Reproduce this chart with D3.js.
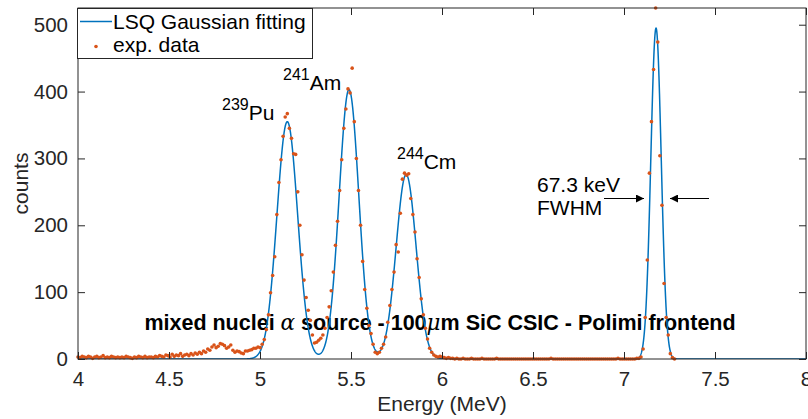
<!DOCTYPE html>
<html>
<head>
<meta charset="utf-8">
<script src="https://cdn.jsdelivr.net/npm/d3@7"></script>
<style>
  body { margin: 0; background: #fff; }
  svg { display: block; font-family: "Liberation Sans", Arial, sans-serif; }
</style>
</head>
<body>
<div id="chart"></div>
<script>
// measured spectrum: counts per channel, first channel at 4.0 MeV
const binStart = 4.0;
const binWidth = 0.0115;
const expCounts = [
  3,2,4,3,2,4,3,1,3,4, 2,3,5,2,3,2,4,3,2,3, 2,3,2,4,3,2,1,3,2,4, 3,2,4,2,3,3,2,4,3,5,
  4,3,6,5,3,7,4,6,5,8, 4,6,7,5,8,6,9,7,10,8,
  12,10,15,13,18,21,17,19,23,22, 20,16,18,21,13,
  10,12,11,9,8,12,
  12,13,14,16,16,18,
  17,22,29,44,66,99,125,153,216,264,298,333,362,367,
  345,330,307,306,250,200,156,118,92,73,58,36,24,25,28,
  31,36,46,62,78,102,130,170,206,252,298,345,374,404,398,435,
  355,300,252,200,146,104,76,50,38,22,10,8,10,16,22,33,55,80,
  104,130,171,160,218,269,278,275,277,240,216,190,150,122,90,66,46,30,16,10,6,4,3,4,
  3,2,1,2,1,1,0,1,0,0, 1,0,0,0,1,0,0,0,0,1, 0,0,0,0,0,0,1,0,0,0, 0,0,0,0,0,0,0,0,0,0,
  0,0,0,0,0,0,0,0,0,0, 0,0,1,0,0,0,0,0,0,0, 0,0,0,0,0,0,0,0,0,0, 0,0,0,0,0,0,0,0,0,0,
  0,0,0,0,1,0,0,0,0,0, 0,0,0,1,
  1,3,15,62,148,278,355,433,525,474,304,230,113,62,36,8,2,0
];

// LSQ gaussian fit, one entry per peak (MeV, counts, MeV)
const peakCentre = [5.150, 5.489, 5.803, 7.176];
const peakHeight = [355, 403, 276, 495];
const peakSigma  = [0.057, 0.054, 0.055, 0.0286];

const xTicks = [4, 4.5, 5, 5.5, 6, 6.5, 7, 7.5, 8];
const yTicks = [0, 100, 200, 300, 400, 500];

const nuclides = [
  {mass: "239", sym: "Pu", x: 222, y: 120},
  {mass: "241", sym: "Am", x: 283, y: 90},
  {mass: "244", sym: "Cm", x: 397, y: 169}
];

const W = 808, H = 419;
const plot = {left: 78, right: 806, top: 8, bottom: 359};
const blue = "#0072BD", orange = "#D95319", axisCol = "#262626";

const svg = d3.select("#chart").append("svg")
  .attr("width", W).attr("height", H);

const x = d3.scaleLinear().domain([4, 8]).range([plot.left, plot.right]);
const y = d3.scaleLinear().domain([0, 525]).range([plot.bottom, plot.top]);

svg.append("defs").append("clipPath").attr("id", "clip")
  .append("rect")
  .attr("x", plot.left).attr("y", plot.top)
  .attr("width", plot.right - plot.left).attr("height", plot.bottom - plot.top);

// title text inside the axes (drawn under the data)
const title = svg.append("text")
  .attr("x", 440).attr("y", 330)
  .attr("text-anchor", "middle")
  .attr("font-size", 21.5).attr("font-weight", "bold").attr("fill", "#000");
title.append("tspan").text("mixed nuclei ");
title.append("tspan").attr("font-family", "DejaVu Serif").attr("font-style", "italic")
  .attr("font-weight", "normal").text("α");
title.append("tspan").text(" source - 100");
title.append("tspan").attr("font-family", "DejaVu Serif").attr("font-style", "italic")
  .attr("font-weight", "normal").text("μ");
title.append("tspan").text("m SiC CSIC - Polimi frontend");

// fit curve
const fitModel = e => d3.sum(peakCentre, (c, k) =>
  peakHeight[k] * Math.exp(-((e - c) ** 2) / (2 * peakSigma[k] ** 2)));
const fitE = d3.range(4, 8.0005, 0.001);

svg.append("path")
  .datum(fitE)
  .attr("clip-path", "url(#clip)")
  .attr("fill", "none")
  .attr("stroke", blue)
  .attr("stroke-width", 1.5)
  .attr("d", d3.line().x(e => x(e)).y(e => y(fitModel(e))));

// experimental points
const expData = expCounts.map((c, i) => ({e: binStart + i * binWidth, c}));
svg.append("g").selectAll("circle")
  .data(expData)
  .join("circle")
  .attr("cx", d => x(d.e))
  .attr("cy", d => y(d.c))
  .attr("r", 1.8)
  .attr("fill", orange);

// axes, ticks pointing inward on all four sides
function styleAxis(g) {
  g.select(".domain").remove();
  g.selectAll(".tick line").attr("stroke", axisCol);
  g.selectAll(".tick text").attr("fill", axisCol)
    .attr("font-size", 20.5).attr("font-family", "Liberation Sans, Arial, sans-serif");
}

svg.append("g").attr("transform", `translate(0,${plot.bottom})`)
  .call(d3.axisBottom(x).tickValues(xTicks).tickFormat(d => String(d))
    .tickSizeInner(-7).tickSizeOuter(0).tickPadding(12))
  .call(styleAxis);
svg.append("g").attr("transform", `translate(0,${plot.top})`)
  .call(d3.axisTop(x).tickValues(xTicks).tickFormat("").tickSizeInner(-7).tickSizeOuter(0))
  .call(styleAxis);
svg.append("g").attr("transform", `translate(${plot.left},0)`)
  .call(d3.axisLeft(y).tickValues(yTicks).tickFormat(d => String(d))
    .tickSizeInner(-7).tickSizeOuter(0).tickPadding(10))
  .call(styleAxis);
svg.append("g").attr("transform", `translate(${plot.right},0)`)
  .call(d3.axisRight(y).tickValues(yTicks).tickFormat("").tickSizeInner(-7).tickSizeOuter(0))
  .call(styleAxis);

svg.append("rect")
  .attr("x", plot.left).attr("y", plot.top)
  .attr("width", plot.right - plot.left).attr("height", plot.bottom - plot.top)
  .attr("fill", "none").attr("stroke", axisCol).attr("stroke-width", 1);

// axis labels
svg.append("text")
  .attr("x", (plot.left + plot.right) / 2).attr("y", 411)
  .attr("text-anchor", "middle").attr("font-size", 21).attr("fill", axisCol)
  .text("Energy (MeV)");
svg.append("text")
  .attr("transform", `translate(28,${(plot.top + plot.bottom) / 2}) rotate(-90)`)
  .attr("text-anchor", "middle").attr("font-size", 21).attr("fill", axisCol)
  .text("counts");

// nuclide labels
nuclides.forEach(n => {
  const t = svg.append("text").attr("x", n.x).attr("y", n.y).attr("fill", "#000");
  t.append("tspan").attr("font-size", 16).attr("dy", -10.5).text(n.mass);
  t.append("tspan").attr("font-size", 21).attr("dy", 10.5).text(n.sym);
});

// FWHM annotation
svg.append("text").attr("x", 537).attr("y", 192).attr("font-size", 21).text("67.3 keV");
svg.append("text").attr("x", 537).attr("y", 215).attr("font-size", 21).text("FWHM");

const marker = svg.select("defs").append("marker")
  .attr("id", "head").attr("viewBox", "0 0 10 10")
  .attr("refX", 10).attr("refY", 5)
  .attr("markerWidth", 8).attr("markerHeight", 8)
  .attr("markerUnits", "userSpaceOnUse")
  .attr("orient", "auto");
marker.append("path").attr("d", "M0,0 L10,5 L0,10 Z").attr("fill", "#000");

[[604, 644], [709, 670]].forEach(([x1, x2]) => {
  svg.append("line")
    .attr("x1", x1).attr("x2", x2).attr("y1", 198.5).attr("y2", 198.5)
    .attr("stroke", "#000").attr("stroke-width", 1.2)
    .attr("marker-end", "url(#head)");
});

// legend
const lg = svg.append("g");
lg.append("rect")
  .attr("x", 77.5).attr("y", 8.5).attr("width", 235).attr("height", 50)
  .attr("fill", "#fff").attr("stroke", axisCol).attr("stroke-width", 1);
lg.append("line")
  .attr("x1", 80).attr("x2", 112).attr("y1", 21.5).attr("y2", 21.5)
  .attr("stroke", blue).attr("stroke-width", 1.5);
lg.append("text").attr("x", 113).attr("y", 29).attr("font-size", 21).attr("fill", "#000")
  .text("LSQ Gaussian fitting");
lg.append("circle").attr("cx", 96).attr("cy", 46.5).attr("r", 1.8).attr("fill", orange);
lg.append("text").attr("x", 113).attr("y", 52).attr("font-size", 21).attr("fill", "#000")
  .text("exp. data");
</script>
</body>
</html>
